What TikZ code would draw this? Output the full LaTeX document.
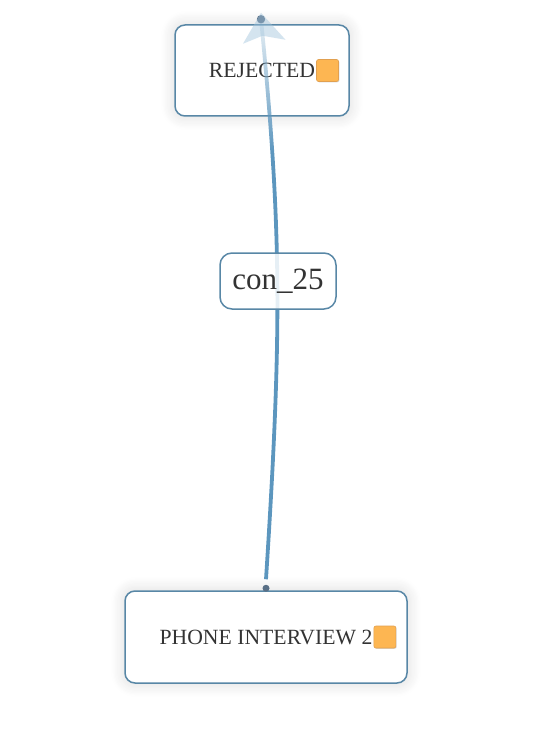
\documentclass[tikz,border=0pt]{standalone}
\usepackage{fontspec}
\setmainfont{Liberation Serif}
\usetikzlibrary{positioning,fadings,shadows,shadows.blur}
\definecolor{cardedge}{RGB}{88,135,166}
\definecolor{edgeblue}{RGB}{92,150,190}
\definecolor{headblue}{RGB}{160,196,220}
\definecolor{dotgray}{RGB}{90,112,135}
\definecolor{tagorange}{RGB}{253,182,82}
\definecolor{tagedge}{RGB}{225,160,80}
\definecolor{inkgray}{RGB}{51,51,51}
\tikzfading[name=edgefade, top color=transparent!88, middle color=transparent!78, bottom color=transparent!0]
\tikzstyle{card} = [rectangle, draw=cardedge, line width=1.5pt, fill=white, rounded corners=10pt,
    blur shadow={shadow xshift=0pt, shadow yshift=0pt, shadow blur radius=14pt, shadow blur steps=12, shadow opacity=15}]
\tikzstyle{cardtext} = [inner sep=0pt, text=inkgray, font=\fontsize{21.7}{26}\selectfont]
\tikzstyle{tag} = [rectangle, draw=tagedge, line width=0.6pt, fill=tagorange, rounded corners=2pt,
    minimum size=22pt, inner sep=0pt, drop shadow={shadow xshift=0.8pt, shadow yshift=-0.8pt, opacity=0.3}]
\tikzstyle{conlabel} = [rectangle, draw=cardedge, line width=1.5pt, fill=white, fill opacity=0.85, text opacity=1,
    rounded corners=12pt, minimum width=116pt, minimum height=56pt, inner sep=0pt, text=inkgray,
    font=\fontsize{31}{36}\selectfont]
\tikzstyle{link} = [draw=edgeblue, line width=3.8pt]
\begin{document}
\begin{tikzpicture}[x=1pt, y=-1pt]
\useasboundingbox (0,0) rectangle (542,754);
%% Place nodes
\node [card, minimum width=174pt, minimum height=91pt] (rejected) at (262,70.5) {};
\node [cardtext] (rejectedtext) at (rejected.center) {REJECTED};
\node [tag, right=1pt of rejectedtext] (rejectedtag) {};
\node [card, minimum width=282pt, minimum height=92pt] (phone) at (266,637) {};
\node [cardtext] (phonetext) at (phone.center) {PHONE INTERVIEW 2};
\node [tag, right=1pt of phonetext] (phonetag) {};

%% Connector end points
\coordinate (linkstart) at ([yshift=11pt]phone.north);
\coordinate (linkdot) at ([yshift=2pt]phone.north);
\coordinate (linkend) at ([xshift=-1pt,yshift=5pt]rejected.north);
\coordinate (linkfade) at (272.2,150.9);

%% Draw the connector (solid part, then the faded part into the target)
\path [link] (linkstart) .. controls +(12.3,-192.5) and +(8.9,134) .. (linkfade);
\path [link, path fading=edgefade] (linkfade) .. controls +(-2.7,-40.1) and +(4.8,48.3) .. (linkend);
\fill [dotgray] (linkdot) circle (3.5pt);
\fill [dotgray] (linkend) circle (4.2pt);
\fill [headblue, opacity=0.45] ([yshift=6.5pt]linkend) -- ++(-18,31) -- ++(19.5,-8) -- ++(23,4) -- cycle;

%% Connector label
\node [conlabel] (con25) at (278,281) {con\_25};
\end{tikzpicture}
\end{document}
